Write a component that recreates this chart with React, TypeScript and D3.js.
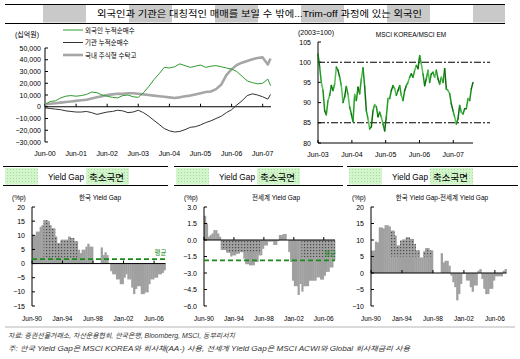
import React, { useEffect, useRef } from "react";
import * as d3 from "d3";

const W = 520;
const H = 359;
const FONT = "'Liberation Sans', 'Noto Sans CJK KR', sans-serif";

const titleText = "외국인과 기관은 대칭적인 매매를 보일 수 밖에...Trim-off 과정에 있는 외국인";

// 누적 순매수 / 수탁고 (십억원), 격월
const flowDates = [
  "2000-06", "2000-08", "2000-10", "2000-12", "2001-02", "2001-04", "2001-06", "2001-08", "2001-10", "2001-12",
  "2002-02", "2002-04", "2002-06", "2002-08", "2002-10", "2002-12", "2003-02", "2003-04", "2003-06", "2003-08",
  "2003-10", "2003-12", "2004-02", "2004-04", "2004-06", "2004-08", "2004-10", "2004-12", "2005-02", "2005-04",
  "2005-06", "2005-08", "2005-10", "2005-12", "2006-02", "2006-04", "2006-06", "2006-08", "2006-10", "2006-12",
  "2007-02", "2007-04", "2007-06", "2007-08", "2007-09",
];
const foreignNetBuy = [
  2000, 4500, 5000, 7500, 9000, 9500, 9000, 9500, 10500, 12500,
  12000, 10000, 9000, 8000, 7500, 9500, 10000, 8500, 8000, 12000,
  17000, 23000, 28000, 33500, 33000, 34000, 36500, 35000, 33500, 34500,
  35500, 33500, 34500, 35000, 34000, 33000, 32000, 30000, 26000, 22000,
  20500, 19500, 20000, 23500, 18000,
];
const instNetBuy = [
  -1000, -1500, -2000, -2500, -3500, -4000, -4500, -4500, -4000, -5000,
  -6500, -5500, -4500, -4000, -3000, -3500, -5000, -4500, -3000, -5000,
  -8000, -11500, -15000, -18500, -20500, -21500, -21000, -19500, -17500, -17000,
  -15500, -13500, -12000, -10000, -8000, -5000, -2500, 1500, 5000, 9500,
  11000, 10000, 8500, 6500, 10500,
];
const fundBalance = [
  2000, 2500, 3000, 3500, 4000, 4500, 5000, 5500, 6000, 7000,
  8000, 9000, 10000, 10500, 11000, 11000, 11500, 11500, 11000, 10500,
  10000, 9500, 9000, 8500, 8000, 7500, 8000, 9000, 9500, 10500,
  11500, 12500, 13000, 15000, 19000, 27000, 32000, 35500, 37500, 39000,
  40500, 41500, 42000, 36000, 41000,
];
const flowNames = ["외국인 누적순매수", "기관 누적순매수", "국내 주식형 수탁고"];
const flowTicks = ["Jun-00", "Jun-01", "Jun-02", "Jun-03", "Jun-04", "Jun-05", "Jun-06", "Jun-07"];
const flowYTicks = [50000, 40000, 30000, 20000, 10000, 0, -10000, -20000, -30000];

// MSCI KOREA / MSCI EM
const krEmStart = "2003-06-01";
const krEmStepDays = 18;
const krEmValues = [
  102, 98.8, 95, 93, 88, 87, 90.5, 91.8, 94.2, 93, 94.6, 98.8, 98, 96.3, 94.2, 90, 91.5, 94, 92, 88.9,
  87.2, 85.3, 92, 90.5, 93.8, 92.2, 95.9, 98.6, 94, 88, 86, 83.5, 84, 88, 89.5, 89, 86.5, 87.6, 86.4, 84.7,
  83, 86.5, 91, 91, 93, 94.2, 93.4, 91.8, 93, 94.2, 91.8, 90.5, 93, 94.2, 95, 96.3, 97.1, 96.3, 98, 99.2,
  98.4, 101.6, 99.6, 97.1, 94.2, 95.9, 98, 95, 97.1, 97.5, 96.3, 98, 95.9, 94.6, 96.3, 95, 98.4, 93.4, 93, 92.2,
  89.7, 88, 86.4, 84.7, 86, 89.3, 87.6, 87.2, 88.5, 88.5, 91, 90.5, 93.4, 95,
];
const krEmTicks = ["Jun-03", "Jun-04", "Jun-05", "Jun-06", "Jun-07"];
const krEmYTicks = [105, 100, 95, 90, 85, 80];
const krEmGuides = [100, 85];

// Yield Gap (%p), 분기 1990Q1 ~ 2007Q2
const gapQuarters = d3.range(70).map((i) => `${1990 + Math.floor(i / 4)}Q${(i % 4) + 1}`);
const gapTickQuarters = ["1990Q1", "1994Q1", "1998Q1", "2002Q1", "2006Q1"];
const gapTickLabels = ["Jun-90", "Jan-94", "Jun-98", "Jan-02", "Jun-06"];
const koreaGap = [
  10, 10, 11.3, 11.3, 13, 13.6, 15.3, 15.3, 15, 13.6, 12.4, 12.4, 9.5, 7.2, 7.2, 8.4, 8.4, 8.4, 8.4, 9.5,
  9, 9, 7.8, 7.8, 4.9, 3.7, 4.9, 4.9, 6, 7, 6, 6, 0, 0, 0, 0, 5.7, 3, 4, 3,
  0, -2.7, -3.8, -3.8, -5.6, -5.6, -7.3, -7.3, -5, -3.8, -5.6, -5.6, -8.5, -10.8, -9, -8, -8, -10.8, -10.8, -10.2,
  -10.2, -7.3, -5.6, -5.6, -5, -5, -3.8, -3.8, -3.3, -2.4,
];
const worldGap = [
  2.2, 1.5, 0.3, 0.45, 0.6, 0.9, 0.9, 0.6, 0.3, -0.9, -0.9, -0.9, -1.15, -1.15, -1.5, -1.4, -1.4, -1.25, -1.25, -1.1,
  -1.1, -1.7, -2.2, -2.2, -2.3, -2.3, -2.3, -2, -2, -1.4, -1.4, -0.8, -0.5, -0.5, -0.15, -0.15, -0.15, -0.45, -0.45, -0.1,
  0.45, 0.45, 0.55, 0.55, 0, -1.1, -2, -3.7, -4.2, -4.2, -5, -4, -4.7, -4.2, -4.2, -4.2, -3.7, -3.7, -3.7, -3.7,
  -3.4, -3.4, -3.6, -3.6, -3.25, -2.9, -2.9, -2.5, -2.5, -1.85,
];
const spreadGap = [
  6.8, 6.8, 9.5, 9.3, 13.8, 13.8, 13.5, 14.5, 14.5, 14.1, 12.8, 12.8, 11.3, 8.3, 8.3, 9.8, 10.1, 10.1, 10.8, 10.8,
  10.3, 10.3, 8.8, 6.8, 6.8, 4.7, 4.7, 6.5, 7.5, 7.5, 6.8, 6.8, 0, 0, 0, 0, 6, 3.2, 3.7, 3.7,
  2.2, -0.8, -2.8, -4.3, -8.3, -6.4, -3.3, -0.3, -0.3, -2.3, -2.3, -4.3, -5.7, -3.8, -3.8, 0.7, 1.2, -1.8, -4.8, -6.4,
  -6.4, -4.8, -4.8, -2.3, -1, -1, -1, -1, 0.7, 1.2,
];
const koreaGapAvg = 1.6;
const worldGapAvg = -1.85;
// 축소국면 (dotted): [from quarter, to quarter, low, high]
const koreaShrink = [["1991Q3", "1995Q4", 2, 20]];
const worldShrink = [["1992Q1", "1997Q2", -1.15, 0], ["2003Q1", "2007Q2", -1.55, 0]];
const spreadShrink = [["1992Q3", "1997Q4", 5, 20]];
const headerText = "Yield Gap";
const headerText2 = "축소국면";

const source1 = "자료: 증권선물거래소, 자산운용협회, 한국은행, Bloomberg, MSCI, 동부리서치";
const source2 = "주: 한국 Yield Gap은 MSCI KOREA와 회사채(AA-) 사용, 전세계 Yield Gap은 MSCI ACWI와 Global 회사채금리 사용";

const App = () => {
  const svgRef = useRef<SVGSVGElement>(null);

  useEffect(() => {
    const svg = d3.select(svgRef.current);
    svg.selectAll("*").remove();
    svg.attr("font-family", FONT);

    const defs = svg.append("defs");
    const gp = defs.append("pattern").attr("id", "greenDots").attr("width", 3).attr("height", 3)
      .attr("patternUnits", "userSpaceOnUse");
    gp.append("rect").attr("width", 3).attr("height", 3).attr("fill", "#d3f5cb");
    gp.append("rect").attr("x", 1).attr("y", 1).attr("width", 1).attr("height", 1).attr("fill", "#a5dc9c");
    const dp = defs.append("pattern").attr("id", "grayDots").attr("width", 3).attr("height", 3)
      .attr("patternUnits", "userSpaceOnUse");
    dp.append("rect").attr("width", 3).attr("height", 3).attr("fill", "#a0a0a0");
    dp.append("rect").attr("x", 1).attr("y", 1).attr("width", 1.2).attr("height", 1.2).attr("fill", "#4a4a4a");

    // ---- title band ----
    const stripes = d3.range(43, 505, 86);
    svg.selectAll(".stripe").data(stripes).enter().append("rect")
      .attr("x", (d) => d).attr("y", 5).attr("width", (d) => Math.min(43, 505 - d)).attr("height", 17.5)
      .attr("fill", "#c9c9c9");
    svg.append("line").attr("x1", 5).attr("x2", 505).attr("y1", 4.5).attr("y2", 4.5).attr("stroke", "#000");
    svg.append("line").attr("x1", 5).attr("x2", 505).attr("y1", 23.5).attr("y2", 23.5).attr("stroke", "#000");
    svg.append("text").attr("x", 97).attr("y", 17).attr("font-size", 9).attr("textLength", 325)
      .attr("lengthAdjust", "spacingAndGlyphs").text(titleText);

    // ---- top-left: flows ----
    const parseM = d3.timeParse("%Y-%m");
    const dates = flowDates.map((d) => parseM(d) as Date);
    const x1 = d3.scaleTime().domain([dates[0], dates[dates.length - 1]]).range([45, 270.5]);
    const y1 = d3.scaleLinear().domain([-30000, 50000]).range([142, 48]);
    const g1 = svg.append("g").attr("font-size", 7);

    g1.append("line").attr("x1", 45).attr("x2", 45).attr("y1", 48).attr("y2", 142).attr("stroke", "#000");
    flowYTicks.forEach((v) => {
      g1.append("line").attr("x1", 45).attr("x2", 48).attr("y1", y1(v)).attr("y2", y1(v)).attr("stroke", "#000");
      g1.append("text").attr("x", 41).attr("y", y1(v) + 2.5).attr("text-anchor", "end").text(d3.format(",")(v));
    });
    g1.append("line").attr("x1", 45).attr("x2", 271).attr("y1", y1(0)).attr("y2", y1(0)).attr("stroke", "#000");
    flowTicks.forEach((t, i) => {
      const xx = x1(new Date(2000 + i, 5, 1));
      g1.append("line").attr("x1", xx).attr("x2", xx).attr("y1", y1(0) - 3).attr("y2", y1(0)).attr("stroke", "#000");
      g1.append("text").attr("x", xx).attr("y", 156).attr("text-anchor", "middle").text(t);
    });
    g1.append("text").attr("x", 15).attr("y", 37).text("(십억원)");

    const flowSeries = [
      { name: flowNames[2], vals: fundBalance, color: "#a6a6a6", width: 2.6 },
      { name: flowNames[0], vals: foreignNetBuy, color: "#2f9a2f", width: 1 },
      { name: flowNames[1], vals: instNetBuy, color: "#333333", width: 1 },
    ];
    const line1 = d3.line<number>().x((_, i) => x1(dates[i])).y((d) => y1(d));
    flowSeries.forEach((s) => {
      g1.append("path").attr("d", line1(s.vals)).attr("fill", "none")
        .attr("stroke", s.color).attr("stroke-width", s.width).attr("stroke-linejoin", "round");
    });
    const legendOrder = [flowSeries[1], flowSeries[2], flowSeries[0]];
    legendOrder.forEach((s, i) => {
      const ly = 30 + i * 12.5;
      g1.append("line").attr("x1", 63).attr("x2", 83).attr("y1", ly).attr("y2", ly)
        .attr("stroke", s.color).attr("stroke-width", s.width);
      g1.append("text").attr("x", 85).attr("y", ly + 2.5).attr("font-size", 6.5).text(s.name);
    });

    // ---- top-right: MSCI KOREA / MSCI EM ----
    const start = d3.timeParse("%Y-%m-%d")(krEmStart) as Date;
    const krDates = krEmValues.map((_, i) => d3.timeDay.offset(start, i * krEmStepDays));
    const x2 = d3.scaleTime().domain([krDates[0], krDates[krDates.length - 1]]).range([318, 473]);
    const y2 = d3.scaleLinear().domain([80, 105]).range([143, 42]);
    const g2 = svg.append("g").attr("font-size", 7);

    g2.append("line").attr("x1", 318).attr("x2", 318).attr("y1", 42).attr("y2", 143).attr("stroke", "#000");
    krEmYTicks.forEach((v) => {
      g2.append("line").attr("x1", 318).attr("x2", 321).attr("y1", y2(v)).attr("y2", y2(v)).attr("stroke", "#000");
      g2.append("text").attr("x", 311).attr("y", y2(v) + 2.5).attr("text-anchor", "end").text(v);
    });
    g2.append("line").attr("x1", 318).attr("x2", 473).attr("y1", 143).attr("y2", 143).attr("stroke", "#000");
    krEmTicks.forEach((t, i) => {
      const xx = x2(new Date(2003 + i, 5, 1));
      g2.append("line").attr("x1", xx).attr("x2", xx).attr("y1", 140).attr("y2", 143).attr("stroke", "#000");
      g2.append("text").attr("x", xx).attr("y", 157).attr("text-anchor", "middle").text(t);
    });
    krEmGuides.forEach((v) => {
      g2.append("line").attr("x1", 318).attr("x2", 490).attr("y1", y2(v)).attr("y2", y2(v))
        .attr("stroke", "#000").attr("stroke-width", 1.1).attr("stroke-dasharray", "7,2,2,2");
    });
    const segColors = ["#0d6d0d", "#22a022", "#56bd56", "#1c8f1c"];
    krEmValues.slice(1).forEach((v, i) => {
      g2.append("line")
        .attr("x1", x2(krDates[i])).attr("y1", y2(krEmValues[i]))
        .attr("x2", x2(krDates[i + 1])).attr("y2", y2(v))
        .attr("stroke", segColors[i % 4]).attr("stroke-width", 1.5).attr("stroke-linecap", "round");
    });
    g2.append("text").attr("x", 298).attr("y", 35).text("(2003=100)");
    g2.append("text").attr("x", 411).attr("y", 37).attr("text-anchor", "middle").attr("font-size", 6.5)
      .text("MSCI KOREA/MSCI EM");

    // ---- bottom: yield gap panels ----
    const panels = [
      {
        x0: 3, x1: 168, axisX: 32, axisEnd: 165.5, data: koreaGap, dom: [-15, 20],
        ticks: d3.range(-15, 21, 5), fmt: d3.format("d"), title: "한국 Yield Gap", titleX: 100, unitX: 12,
        avg: koreaGapAvg, shrink: koreaShrink,
      },
      {
        x0: 174, x1: 343, axisX: 204, axisEnd: 335, data: worldGap, dom: [-6, 3],
        ticks: d3.range(-6, 3.1, 1.5), fmt: d3.format(".1f"), title: "전세계 Yield Gap", titleX: 276, unitX: 184,
        avg: worldGapAvg, shrink: worldShrink,
      },
      {
        x0: 347, x1: 518, axisX: 371, axisEnd: 506.5, data: spreadGap, dom: [-10, 20],
        ticks: d3.range(-10, 21, 5), fmt: d3.format("d"), title: "한국 Yield Gap-전세계 Yield Gap", titleX: 442,
        unitX: 352, avg: null, shrink: spreadShrink,
      },
    ];

    panels.forEach((p, k) => {
      const g = svg.append("g").attr("font-size", 7);
      // header
      g.append("rect").attr("x", p.x0 + 2).attr("y", 168).attr("width", 33).attr("height", 16.5).attr("fill", "url(#greenDots)");
      g.append("rect").attr("x", p.x0 + 83).attr("y", 168).attr("width", 43).attr("height", 16.5).attr("fill", "url(#greenDots)");
      g.append("line").attr("x1", p.x0).attr("x2", p.x1).attr("y1", 166.5).attr("y2", 166.5).attr("stroke", "#000").attr("stroke-width", 1.2);
      g.append("line").attr("x1", p.x0).attr("x2", p.x1).attr("y1", 185.5).attr("y2", 185.5).attr("stroke", "#000").attr("stroke-width", 1.2);
      g.append("text").attr("x", p.x0 + 45).attr("y", 180).attr("font-size", 8.6).attr("textLength", 36)
        .attr("lengthAdjust", "spacingAndGlyphs").text(headerText);
      g.append("text").attr("x", p.x0 + 86).attr("y", 180.5).attr("font-size", 9.5).text(headerText2);

      const x = d3.scaleBand<string>().domain(gapQuarters).range([p.axisX, p.axisEnd]).paddingInner(0).paddingOuter(0);
      const y = d3.scaleLinear().domain(p.dom).range([306, 207]);
      const bw = x.bandwidth();

      g.append("text").attr("x", p.unitX).attr("y", 199.5).attr("font-size", 6.5).text("(%p)");
      g.append("text").attr("x", p.titleX).attr("y", 199.5).attr("font-size", 6.5).attr("text-anchor", "middle").text(p.title);

      // bars
      const clipId = `barsClip${k}`;
      const clip = defs.append("clipPath").attr("id", clipId);
      p.data.forEach((v, i) => {
        const q = gapQuarters[i];
        const top = Math.min(y(v), y(0));
        const h = Math.abs(y(v) - y(0));
        g.append("rect").attr("x", x(q) as number).attr("y", top).attr("width", bw + 0.35).attr("height", h).attr("fill", "#a0a0a0");
        clip.append("rect").attr("x", x(q) as number).attr("y", top).attr("width", bw + 0.35).attr("height", h);
      });
      p.shrink.forEach(([from, to, lo, hi]) => {
        const xa = x(from as string) as number;
        const xb = (x(to as string) as number) + bw;
        g.append("rect").attr("x", xa).attr("y", y(hi as number)).attr("width", xb - xa)
          .attr("height", y(lo as number) - y(hi as number)).attr("fill", "url(#grayDots)").attr("clip-path", `url(#${clipId})`);
      });

      // axes
      g.append("line").attr("x1", p.axisX).attr("x2", p.axisX).attr("y1", 207).attr("y2", 306).attr("stroke", "#000");
      p.ticks.forEach((v) => {
        g.append("line").attr("x1", p.axisX).attr("x2", p.axisX + 3).attr("y1", y(v)).attr("y2", y(v)).attr("stroke", "#000");
        g.append("text").attr("x", p.axisX - 7).attr("y", y(v) + 2.5).attr("text-anchor", "end").text(p.fmt(v));
      });
      g.append("line").attr("x1", p.axisX).attr("x2", p.axisEnd).attr("y1", y(0)).attr("y2", y(0)).attr("stroke", "#000");
      gapTickQuarters.forEach((q, i) => {
        const xx = x(q) as number;
        g.append("line").attr("x1", xx).attr("x2", xx).attr("y1", y(0) - 3).attr("y2", y(0)).attr("stroke", "#000");
        g.append("text").attr("x", xx).attr("y", 320.5).attr("text-anchor", "middle").attr("font-size", 6.5).text(gapTickLabels[i]);
      });

      if (p.avg !== null) {
        g.append("line").attr("x1", p.axisX).attr("x2", p.axisEnd).attr("y1", y(p.avg)).attr("y2", y(p.avg))
          .attr("stroke", "#1a8a1a").attr("stroke-width", 1.8).attr("stroke-dasharray", "5,3");
        g.append("text").attr("x", p.axisEnd - 5).attr("y", y(p.avg) - 4).attr("text-anchor", "middle")
          .attr("font-size", 6.5).attr("fill", "#1a8a1a").text("평균");
      }
    });

    // ---- footnotes ----
    svg.append("line").attr("x1", 5).attr("x2", 515).attr("y1", 327).attr("y2", 327).attr("stroke", "#b5b5b5");
    svg.append("text").attr("x", 8).attr("y", 338).attr("font-size", 6.8).attr("font-style", "italic")
      .attr("fill", "#333").attr("textLength", 227).attr("lengthAdjust", "spacingAndGlyphs").text(source1);
    svg.append("text").attr("x", 8).attr("y", 351).attr("font-size", 6.8).attr("font-style", "italic")
      .attr("fill", "#333").attr("textLength", 402).attr("lengthAdjust", "spacingAndGlyphs").text(source2);
  }, []);

  return (
    <svg
      ref={svgRef}
      width={W}
      height={H}
      style={{ position: "absolute", left: 0, top: 0, background: "#fff" }}
    />
  );
};

export default App;
